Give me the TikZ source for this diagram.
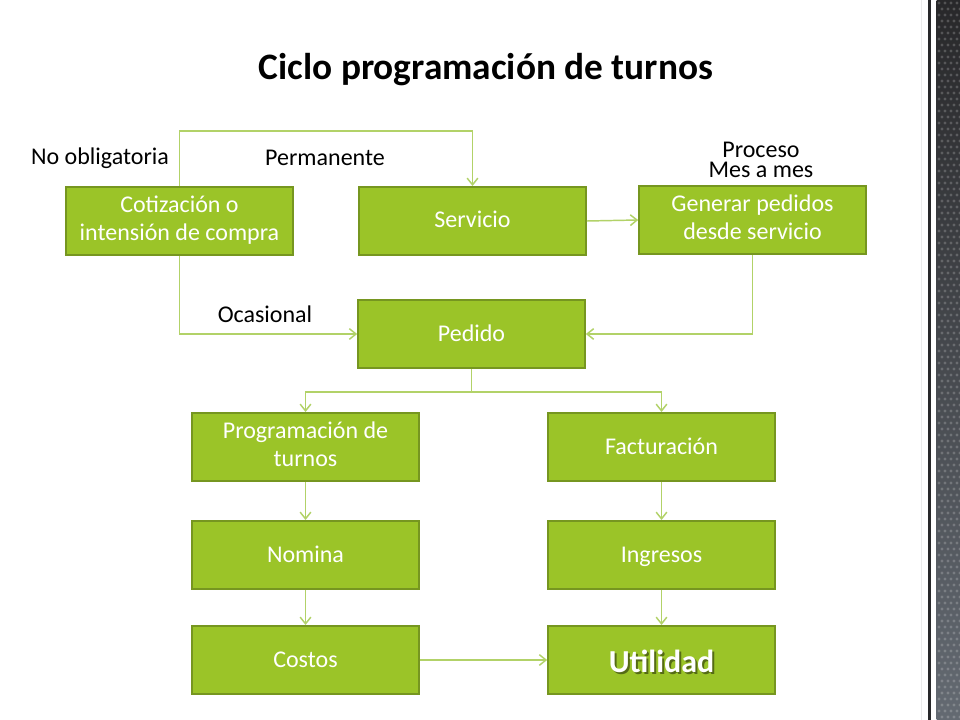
\documentclass[tikz,border=0pt]{standalone}
\usepackage{fontspec}
\setmainfont{Carlito}
\usetikzlibrary{arrows.meta}
\definecolor{boxfill}{RGB}{155,196,40}
\definecolor{boxline}{RGB}{118,150,32}
\definecolor{conn}{RGB}{178,210,104}
\definecolor{stripdark}{RGB}{40,40,42}
\definecolor{striplight}{RGB}{100,106,114}
\newcommand{\boxstrut}{\rule[-4.5pt]{0pt}{19.5pt}}
\tikzset{
  greenbox/.style={draw=boxline, line width=1.5pt, fill=boxfill, text=white,
    minimum width=170pt, minimum height=51pt, inner sep=0pt, align=center,
    font=\fontsize{18}{21}\selectfont,
    execute at begin node=\boxstrut, execute at end node=\boxstrut},
  lbl/.style={text=black, inner sep=0pt, align=center, font=\fontsize{18}{19}\selectfont},
  arr/.style={draw=conn, line width=1.1pt, -{Straight Barb[length=5pt,width=8pt]}},
  ln/.style={draw=conn, line width=1.1pt}
}
\begin{document}
\begin{tikzpicture}[x=0.75pt,y=-0.75pt]
\useasboundingbox (0,0) rectangle (960,720);
\fill[white] (0,0) rectangle (960,720);
% right decorative strip
\fill[black!8] (921,0) rectangle (922,720);
\fill[stripdark] (928,0) rectangle (930.5,720);
\shade[top color=stripdark, bottom color=striplight] (936.5,0) rectangle (960,720);
\foreach \i in {0,...,3}{
  \foreach \j in {0,...,119}{
    \fill[white, opacity=0.2] ({939+\i*6+mod(\j,2)*3},{\j*6+3}) circle (1.7);
  }
}
% title
\node[font=\bfseries\fontsize{28}{30}\selectfont, inner sep=0pt] (title) at (486,70) {Ciclo programación de turnos};
% boxes
\node[greenbox] (cot) at (179.5,221) {Cotización o\\intensión de compra};
\node[greenbox] (serv) at (472.5,221) {Servicio};
\node[greenbox] (gen) at (752.5,220) {Generar pedidos\\desde servicio};
\node[greenbox] (ped) at (471.5,334) {Pedido};
\node[greenbox] (prog) at (305.5,447) {Programación de\\turnos};
\node[greenbox] (fact) at (661.5,447) {Facturación};
\node[greenbox] (nom) at (305.5,555) {Nomina};
\node[greenbox] (ing) at (661.5,555) {Ingresos};
\node[greenbox] (cos) at (305.5,660) {Costos};
\node[greenbox] (uti) at (661.5,660) {};
\node[text=black, opacity=0.45, font=\bfseries\fontsize{24}{26}\selectfont, inner sep=0pt] (utishadow) at (663.5,663) {Utilidad};
\node[text=white, font=\bfseries\fontsize{24}{26}\selectfont, inner sep=0pt] (utitext) at (661.5,661) {Utilidad};
% labels
\node[lbl] (l1) at (100,158) {No obligatoria};
\node[lbl] (l2) at (325,158) {Permanente};
\node[lbl, anchor=base] (l3a) at (761,158) {Proceso};
\node[lbl, anchor=base] (l3b) at (761,178) {Mes a mes};
\node[lbl] (l4) at (265,314) {Ocasional};
% connectors
\draw[arr] (cot.north) -- ++(0,-55) -| (serv.north);
\draw[arr] (serv.east) -- (gen.west);
\draw[arr] (gen.south) |- (ped.east);
\draw[arr] (cot.south) |- (ped.west);
\draw[ln] (ped.south) -- ++(0,23) coordinate (split);
\draw[arr] (split) -| (prog.north);
\draw[arr] (split) -| (fact.north);
\draw[arr] (prog.south) -- (nom.north);
\draw[arr] (nom.south) -- (cos.north);
\draw[arr] (fact.south) -- (ing.north);
\draw[arr] (ing.south) -- (uti.north);
\draw[arr] (cos.east) -- (uti.west);
\end{tikzpicture}
\end{document}
